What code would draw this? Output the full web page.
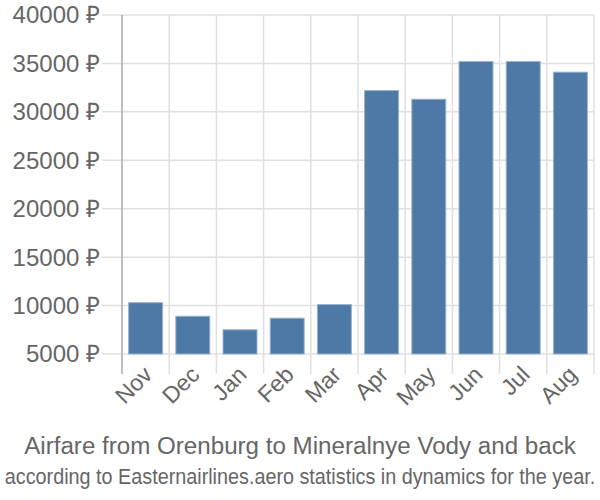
<!DOCTYPE html>
<html>
<head>
<meta charset="utf-8">
<script src="https://cdn.jsdelivr.net/npm/d3@7"></script>
<style>
  body { margin: 0; background: #fff; }
  text { font-family: "Liberation Sans", Arial, sans-serif; fill: #666; }
</style>
</head>
<body>
<div id="chart"></div>
<script>
const months = ["Nov", "Dec", "Jan", "Feb", "Mar", "Apr", "May", "Jun", "Jul", "Aug"];
const prices = [10300, 8900, 7500, 8700, 10100, 32200, 31300, 35200, 35200, 34100];
const yTicks = [5000, 10000, 15000, 20000, 25000, 30000, 35000, 40000];
const title = "Airfare from Orenburg to Mineralnye Vody and back";
const subtitle = "according to Easternairlines.aero statistics in dynamics for the year.";

const width = 600;
const height = 500;
const margin = { top: 15, right: 6, bottom: 146, left: 122 };

const svg = d3
  .select("#chart")
  .append("svg")
  .attr("width", width)
  .attr("height", height);

const x = d3
  .scaleBand()
  .domain(months)
  .range([margin.left, width - margin.right])
  .paddingInner(0.28)
  .paddingOuter(0.14);

const y = d3
  .scaleLinear()
  .domain([5000, 40000])
  .range([height - margin.bottom, margin.top]);

// horizontal grid + y ticks
svg
  .append("g")
  .attr("class", "y-grid")
  .selectAll("line")
  .data(yTicks)
  .enter()
  .append("line")
  .attr("x1", margin.left - 20)
  .attr("x2", width - margin.right)
  .attr("y1", (d) => y(d))
  .attr("y2", (d) => y(d))
  .attr("stroke", "#e0e0e0")
  .attr("stroke-width", 1.5);

// vertical grid (band edges)
const edges = months.map((m) => x(m) - (x.step() * x.paddingInner()) / 2);
edges.push(width - margin.right);
svg
  .append("g")
  .attr("class", "x-grid")
  .selectAll("line")
  .data(edges.slice(1))
  .enter()
  .append("line")
  .attr("x1", (d) => d)
  .attr("x2", (d) => d)
  .attr("y1", margin.top)
  .attr("y2", height - margin.bottom + 20)
  .attr("stroke", "#e0e0e0")
  .attr("stroke-width", 1.5);

// bars
svg
  .append("g")
  .selectAll("rect")
  .data(prices)
  .enter()
  .append("rect")
  .attr("x", (d, i) => x(months[i]))
  .attr("width", x.bandwidth())
  .attr("y", (d) => y(d))
  .attr("height", (d) => y(5000) - y(d))
  .attr("fill", "#4e79a7")
  .attr("stroke", "#9ab2cf")
  .attr("stroke-width", 1);

// y axis line
svg
  .append("line")
  .attr("x1", margin.left)
  .attr("x2", margin.left)
  .attr("y1", margin.top)
  .attr("y2", height - margin.bottom + 20)
  .attr("stroke", "#aaa")
  .attr("stroke-width", 1.5);

// y labels
svg
  .append("g")
  .selectAll("text")
  .data(yTicks)
  .enter()
  .append("text")
  .attr("x", margin.left - 22)
  .attr("y", (d) => y(d))
  .attr("dy", "0.35em")
  .attr("text-anchor", "end")
  .style("font-size", "24px")
  .text((d) => d + " ₽");

// x labels
svg
  .append("g")
  .selectAll("text")
  .data(months)
  .enter()
  .append("text")
  .attr("text-anchor", "end")
  .attr(
    "transform",
    (d) =>
      `translate(${x(d) + x.bandwidth() / 2 + 8},${height - margin.bottom + 22}) rotate(-45)`
  )
  .style("font-size", "23px")
  .text((d) => d);

// titles
svg
  .append("text")
  .attr("transform", `translate(${width / 2},454) scale(1.05,1)`)
  .attr("text-anchor", "middle")
  .style("font-size", "23px")
  .text(title);

// subtitle is drawn a bit condensed, like the original
svg
  .append("text")
  .attr("transform", `translate(${width / 2},484) scale(0.9,1)`)
  .attr("text-anchor", "middle")
  .style("font-size", "22px")
  .text(subtitle);
</script>
</body>
</html>
